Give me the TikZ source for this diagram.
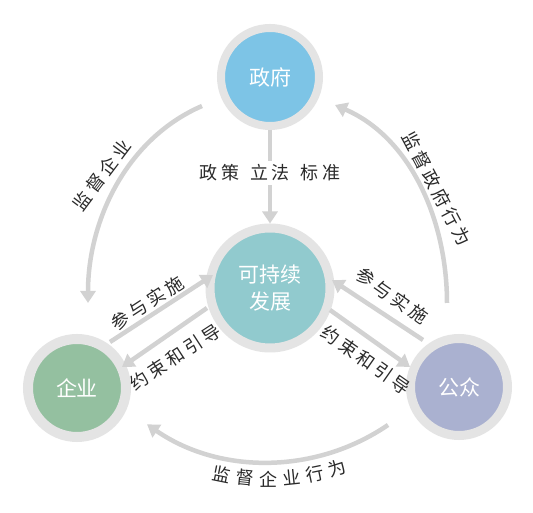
\documentclass[tikz,border=0pt]{standalone}
\usepackage{fontspec}
\setmainfont{Noto Sans CJK SC}
\usetikzlibrary{arrows.meta,calc}
\definecolor{ringgray}{HTML}{E4E4E4}
\definecolor{arrowgray}{HTML}{D2D2D2}
\definecolor{govblue}{HTML}{7DC4E6}
\definecolor{ctrteal}{HTML}{91CACE}
\definecolor{entgreen}{HTML}{94C0A0}
\definecolor{pubpurple}{HTML}{AAB1D0}
\definecolor{labelgray}{HTML}{2A2A2A}
\newcommand\lk{\kern3.5pt}
\begin{document}
\begin{tikzpicture}[x=1pt,y=1pt,
  hub/.style={circle, draw=ringgray, inner sep=0pt, text=white,
    font=\fontsize{21}{27}\selectfont, align=center},
  flow/.style={draw=arrowgray, line width=4.5pt, -{Triangle[width=15pt,length=12pt]}},
  lab/.style={text=labelgray, font=\fontsize{18}{20}\selectfont, inner sep=1pt}]
\useasboundingbox (0,0) rectangle (533,513);
\fill[white] (0,0) rectangle (533,513);
% hubs
\node[hub, fill=govblue, line width=8pt, minimum size=98pt] (gov) at (270,436) {政府};
\node[hub, fill=ctrteal, line width=9pt, minimum size=120pt] (ctr) at (270,225) {可持续\\发展};
\node[hub, fill=entgreen, line width=10pt, minimum size=98pt] (ent) at (77,125) {企业};
\node[hub, fill=pubpurple, line width=9pt, minimum size=97pt] (pub) at (459,126) {公众};
% vertical
\draw[flow] (gov.south) -- (ctr.north);
\node[lab, fill=white, inner sep=4pt] (pol) at (270,340) {政\lk 策\hspace{11pt}立\lk 法\hspace{11pt}标\lk 准};
% arcs
\coordinate (l1) at (202,407); \coordinate (l2) at (88,210);
\draw[flow] (l1) .. controls (126,374) and (88,292) .. (l2);
\coordinate (r1) at (447,210); \coordinate (r2) at (335,408);
\draw[flow] (r1) .. controls (447,292) and (411,375) .. (r2);
\coordinate (b1) at (388,88);
\draw[flow] (b1) arc[start angle=-55.7, end angle=-124.6, radius=213];
% straight arrows
\coordinate (lu1) at (110,171); \coordinate (lu2) at (213,238);
\coordinate (ll1) at (207,205); \coordinate (ll2) at (122,146);
\coordinate (ru1) at (423,173); \coordinate (ru2) at (332,233);
\coordinate (rl1) at (330,203); \coordinate (rl2) at (410,146);
\draw[flow] (lu1) -- (lu2);
\draw[flow] (ll1) -- (ll2);
\draw[flow] (ru1) -- (ru2);
\draw[flow] (rl1) -- (rl2);
% labels
\node[lab, rotate=53] (sq) at (102,338) {监\lk 督\lk 企\lk 业};
\node[lab, rotate=-62] (sg) at (437,324) {监\lk 督\lk 政\lk 府\lk 行\lk 为};
\node[lab, rotate=33] (pl) at (147,210) {参\lk 与\lk 实\lk 施};
\node[lab, rotate=33] (cl) at (175,156) {约\lk 束\lk 和\lk 引\lk 导};
\node[lab, rotate=-35] (pr) at (392,217) {参\lk 与\lk 实\lk 施};
\node[lab, rotate=-35] (cr) at (366,153) {约\lk 束\lk 和\lk 引\lk 导};
\foreach \c [count=\i from 0] in {监,督,企,业,行,为} {
  \pgfmathsetmacro\t{-11.5+5.8*\i}
  \node[lab, rotate=\t] (bt\i) at ($(268,264)+(-90+\t:230)$) {\c};
}
\end{tikzpicture}
\end{document}
